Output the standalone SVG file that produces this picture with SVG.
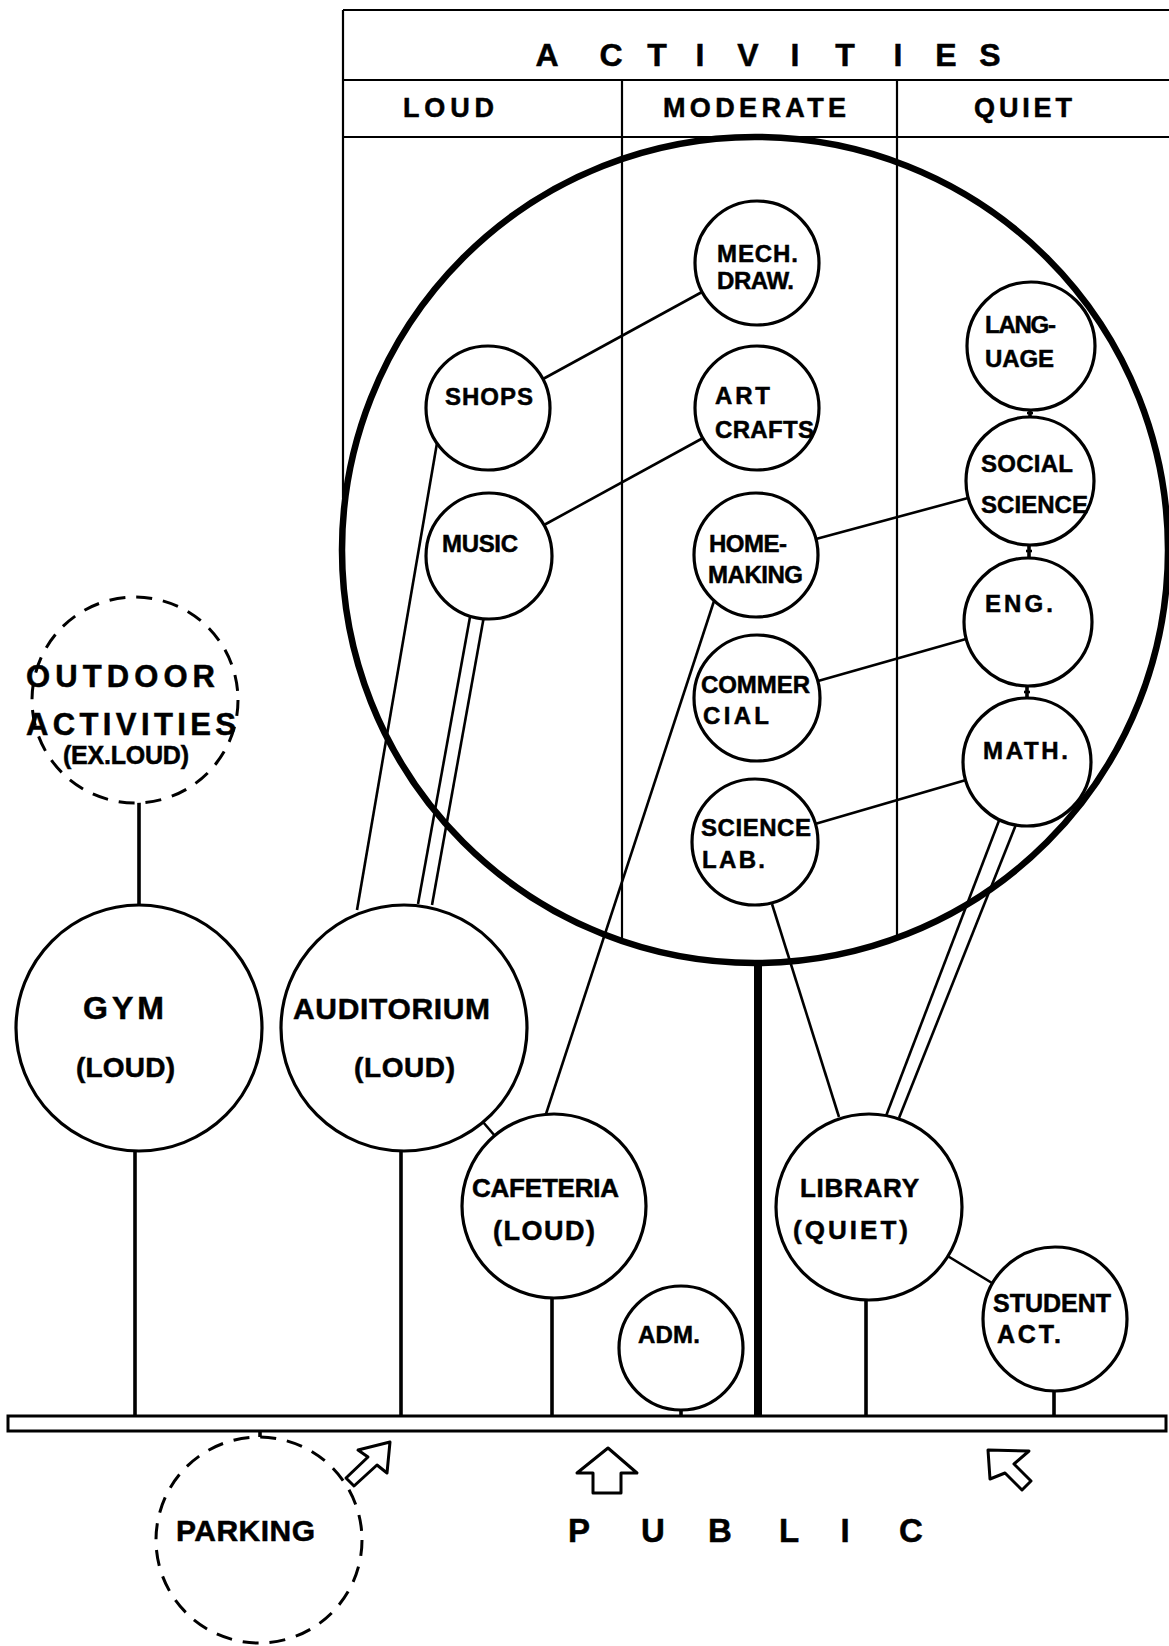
<svg xmlns="http://www.w3.org/2000/svg" width="1169" height="1646" viewBox="0 0 1169 1646">
<style>
  text { font-family: "Liberation Sans", Arial, sans-serif; font-weight: bold; fill: #000; stroke: #000; stroke-width: 0.5; }
  .tbl { stroke: #000; stroke-width: 2.2; fill: none; }
  .node { stroke: #000; stroke-width: 3.2; fill: #fff; }
  .dash { stroke: #000; stroke-width: 3; fill: #fff; stroke-dasharray: 16 11; }
  .con { stroke: #000; stroke-width: 2.6; fill: none; }
  .stem { stroke: #000; stroke-width: 3.6; fill: none; }
  .arrow { stroke: #000; stroke-width: 3; fill: #fff; stroke-linejoin: round; }
  .s24 { font-size: 24px; }
</style>
<rect width="1169" height="1646" fill="#fff"/>

<g id="table">
  <line class="tbl" x1="343" y1="10" x2="1169" y2="10"/>
  <line class="tbl" x1="343" y1="10" x2="343" y2="498"/>
  <line class="tbl" x1="343" y1="80" x2="1169" y2="80"/>
  <line class="tbl" x1="343" y1="137" x2="1169" y2="137"/>
  <line class="tbl" x1="622" y1="80" x2="622" y2="941"/>
  <line class="tbl" x1="897" y1="80" x2="897" y2="938"/>
  <text x="547 611 657 700 748 795 845 898 946 990" y="66" font-size="32" text-anchor="middle">ACTIVITIES</text>
  <text x="403" y="117" font-size="27" textLength="91">LOUD</text>
  <text x="663" y="117" font-size="27" textLength="183">MODERATE</text>
  <text x="974" y="117" font-size="27" textLength="98">QUIET</text>
</g>

<g id="connectors">
  <line class="con" x1="543" y1="379" x2="702" y2="292"/>
  <line class="con" x1="544" y1="525" x2="703" y2="438"/>
  <line class="con" x1="816" y1="539" x2="968" y2="498"/>
  <line class="con" x1="818" y1="681" x2="966" y2="639"/>
  <line class="con" x1="815" y1="824" x2="966" y2="780"/>
  <line class="con" x1="437" y1="443" x2="357" y2="910"/>
  <line class="con" x1="470" y1="617" x2="418" y2="904"/>
  <line class="con" x1="484" y1="616" x2="432" y2="905"/>
  <line class="con" x1="715" y1="598" x2="545" y2="1117"/>
  <line class="con" x1="772" y1="904" x2="839" y2="1117"/>
  <line class="con" x1="1000" y1="818" x2="886" y2="1116"/>
  <line class="con" x1="1017" y1="822" x2="899" y2="1118"/>
  <line class="con" x1="483" y1="1122" x2="495" y2="1136"/>
  <line class="con" x1="946" y1="1255" x2="992" y2="1283"/>
  <line class="stem" x1="1030" y1="409" x2="1030" y2="418"/>
  <line class="con" x1="1027" y1="413" x2="1033" y2="413"/>
  <line class="stem" x1="1029" y1="544" x2="1029" y2="558"/>
  <line class="con" x1="1026" y1="551" x2="1032" y2="551"/>
  <line class="stem" x1="1027" y1="685" x2="1027" y2="699"/>
  <line class="con" x1="1024" y1="692" x2="1030" y2="692"/>
  <line class="stem" x1="139" y1="802" x2="139" y2="906"/>
  <line class="stem" x1="135" y1="1150" x2="135" y2="1417"/>
  <line class="stem" x1="401" y1="1150" x2="401" y2="1417"/>
  <line class="stem" x1="552" y1="1297" x2="552" y2="1417"/>
  <line class="stem" x1="681" y1="1409" x2="681" y2="1417"/>
  <line x1="758" y1="960" x2="758" y2="1417" stroke="#000" stroke-width="8"/>
  <line class="stem" x1="866" y1="1299" x2="866" y2="1417"/>
  <line class="stem" x1="1054" y1="1390" x2="1054" y2="1417"/>
  <line class="stem" x1="260" y1="1430" x2="260" y2="1439"/>
</g>

<g id="baseline">
  <rect x="8" y="1416" width="1158" height="15" fill="#fff" stroke="#000" stroke-width="3"/>
</g>

<g id="mech-draw">
  <circle class="node" cx="757" cy="263" r="62"/>
  <text class="s24" x="717" y="262" textLength="81">MECH.</text>
  <text class="s24" x="717" y="289" textLength="77">DRAW.</text>
</g>
<g id="language">
  <circle class="node" cx="1031" cy="346" r="64"/>
  <text class="s24" x="985" y="333" textLength="71">LANG-</text>
  <text class="s24" x="985" y="367" textLength="69">UAGE</text>
</g>
<g id="shops">
  <circle class="node" cx="488" cy="408" r="62"/>
  <text class="s24" x="445" y="405" textLength="88">SHOPS</text>
</g>
<g id="art-crafts">
  <circle class="node" cx="757" cy="408" r="62"/>
  <text class="s24" x="715" y="404" textLength="55">ART</text>
  <text class="s24" x="715" y="438" textLength="99">CRAFTS</text>
</g>
<g id="social-science">
  <circle class="node" cx="1030" cy="481" r="64"/>
  <text class="s24" x="981" y="472" textLength="92">SOCIAL</text>
  <text class="s24" x="981" y="513" textLength="107">SCIENCE</text>
</g>
<g id="music">
  <circle class="node" cx="489" cy="556" r="63"/>
  <text class="s24" x="442" y="552" textLength="76">MUSIC</text>
</g>
<g id="home-making">
  <circle class="node" cx="756" cy="555" r="62"/>
  <text class="s24" x="709" y="552" textLength="78">HOME-</text>
  <text class="s24" x="708" y="583" textLength="95">MAKING</text>
</g>
<g id="eng">
  <circle class="node" cx="1028" cy="622" r="64"/>
  <text class="s24" x="985" y="612" textLength="68">ENG.</text>
</g>
<g id="commercial">
  <circle class="node" cx="757" cy="698" r="63"/>
  <text class="s24" x="701" y="693" textLength="109">COMMER</text>
  <text class="s24" x="703" y="724" textLength="66">CIAL</text>
</g>
<g id="math">
  <circle class="node" cx="1027" cy="762" r="64"/>
  <text class="s24" x="983" y="759" textLength="85">MATH.</text>
</g>
<g id="science-lab">
  <circle class="node" cx="755" cy="842" r="63"/>
  <text class="s24" x="701" y="836" textLength="110">SCIENCE</text>
  <text class="s24" x="702" y="868" textLength="63">LAB.</text>
</g>

<g id="outdoor-activities">
  <circle class="dash" cx="135" cy="700" r="103"/>
  <text x="26" y="687" font-size="31" textLength="189">OUTDOOR</text>
  <text x="26" y="735" font-size="31" textLength="210">ACTIVITIES</text>
  <text x="63" y="764" font-size="25" textLength="126">(EX.LOUD)</text>
</g>
<g id="gym">
  <circle class="node" cx="139" cy="1028" r="123"/>
  <text x="83" y="1019" font-size="32" textLength="81">GYM</text>
  <text x="76" y="1077" font-size="28" textLength="99">(LOUD)</text>
</g>
<g id="auditorium">
  <circle class="node" cx="404" cy="1028" r="123"/>
  <text x="293" y="1019" font-size="30" textLength="197">AUDITORIUM</text>
  <text x="354" y="1077" font-size="28" textLength="101">(LOUD)</text>
</g>
<g id="cafeteria">
  <circle class="node" cx="554" cy="1206" r="92"/>
  <text x="472" y="1197" font-size="26" textLength="147">CAFETERIA</text>
  <text x="493" y="1240" font-size="27" textLength="102">(LOUD)</text>
</g>
<g id="adm">
  <circle class="node" cx="681" cy="1348" r="62"/>
  <text class="s24" x="638" y="1343" textLength="62">ADM.</text>
</g>
<g id="library">
  <circle class="node" cx="869" cy="1207" r="93"/>
  <text x="800" y="1197" font-size="26" textLength="119">LIBRARY</text>
  <text x="793" y="1239" font-size="26" textLength="115">(QUIET)</text>
</g>
<g id="student-act">
  <circle class="node" cx="1055" cy="1319" r="72"/>
  <text x="993" y="1312" font-size="25" textLength="118">STUDENT</text>
  <text x="997" y="1343" font-size="25" textLength="64">ACT.</text>
</g>
<g id="parking">
  <circle class="dash" cx="259" cy="1540" r="103"/>
  <text x="176" y="1541" font-size="30" textLength="139">PARKING</text>
</g>

<g id="activities-zone">
  <circle cx="755" cy="550" r="413" fill="none" stroke="#000" stroke-width="6.5"/>
</g>

<g id="public">
  <path class="arrow" d="M390,1442 L387,1473 L377,1465 L354,1486 L346,1478 L368,1457 L358,1450 Z"/>
  <path class="arrow" d="M608,1448 L637,1473 L621,1473 L621,1493 L593,1493 L593,1473 L577,1473 Z"/>
  <path class="arrow" d="M988,1450 L1029,1451 L1014,1464 L1031,1481 L1022,1490 L1005,1473 L990,1479 Z"/>
  <text x="579 653 720 789 845 911" y="1542" font-size="33" text-anchor="middle">PUBLIC</text>
</g>
</svg>
